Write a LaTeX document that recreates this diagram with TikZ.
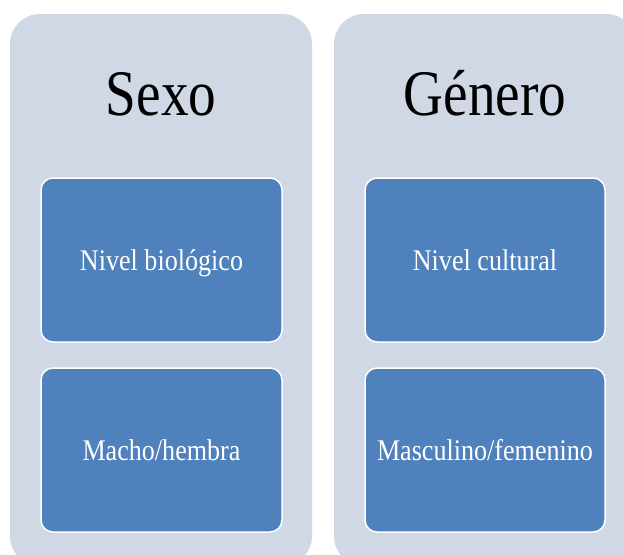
\documentclass[tikz,border=0pt]{standalone}
\usepackage{fontspec}
\usepackage{graphicx}
\setmainfont{Liberation Serif}
\definecolor{panelfill}{HTML}{D0D7E5}
\definecolor{boxfill}{HTML}{4F81BD}
\newcommand{\titletxt}[1]{\scalebox{0.85}[1]{\fontsize{65}{70}\selectfont #1}}
\newcommand{\boxtxt}[1]{\scalebox{0.87}[1]{\fontsize{30}{34}\selectfont #1}}
\begin{document}
\begin{tikzpicture}[x=1pt,y=-1pt,
  panel/.style={fill=panelfill, draw=none, rounded corners=30pt},
  inbox/.style={fill=boxfill, draw=white, line width=1.5pt, rounded corners=12pt},
  title/.style={text=black, inner sep=0pt, anchor=base},
  boxtext/.style={text=white, inner sep=0pt, anchor=base}]
\useasboundingbox (0,0) rectangle (623,554);
\begin{scope}
\clip (0,0) rectangle (623,554);
\fill[panel] (10,14) rectangle (312,566);
\fill[panel] (334,14) rectangle (636,566);
\end{scope}
\draw[inbox] (41,178) rectangle (282,342);
\draw[inbox] (41,368) rectangle (282,532);
\draw[inbox] (365,178) rectangle (605,342);
\draw[inbox] (365,368) rectangle (605,532);
\node[title] (sexo) at (161,115) {\titletxt{Sexo}};
\node[title] (genero) at (485,115) {\titletxt{Género}};
\node[boxtext] (bio) at (161.5,270) {\boxtxt{Nivel biológico}};
\node[boxtext] (macho) at (161.5,460) {\boxtxt{Macho/hembra}};
\node[boxtext] (cult) at (485,270) {\boxtxt{Nivel cultural}};
\node[boxtext] (masc) at (485,460) {\boxtxt{Masculino/femenino}};
\end{tikzpicture}
\end{document}
